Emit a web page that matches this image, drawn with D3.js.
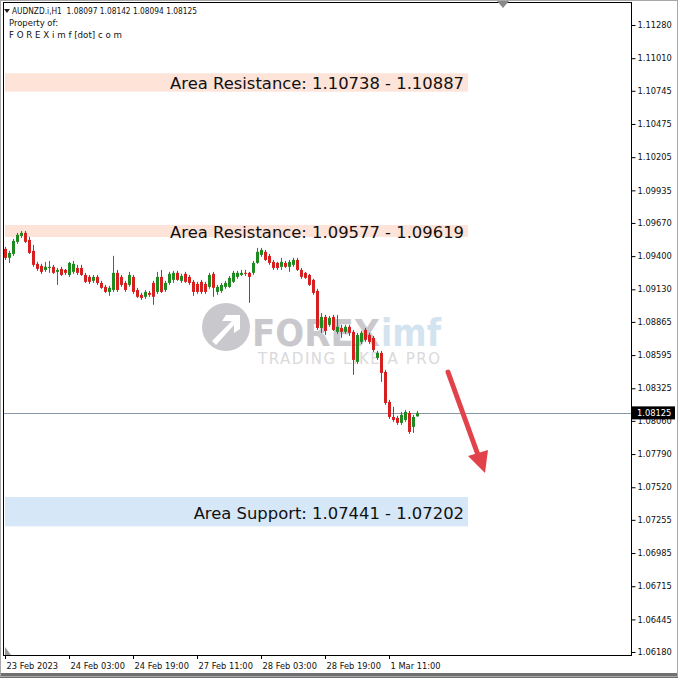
<!DOCTYPE html>
<html><head><meta charset="utf-8">
<script src="https://cdn.jsdelivr.net/npm/d3@7"></script>
<style>html,body{margin:0;padding:0;background:#fff;}svg{display:block;}</style>
</head><body>
<svg id="c" width="678" height="678"></svg>
<script>
// ---------- DATA ----------
const symbolInfo = "AUDNZD.i,H1  1.08097 1.08142 1.08094 1.08125";
const timeLabels = ["23 Feb 2023","24 Feb 03:00","24 Feb 19:00","27 Feb 11:00","28 Feb 03:00","28 Feb 19:00","1 Mar 11:00"];
const timeTickIdx = [0,16,32,48,64,80,96];
const priceTicks = [1.11280,1.11010,1.10745,1.10475,1.10205,1.09935,1.09670,1.09400,1.09130,1.08865,1.08595,1.08325,1.08060,1.07790,1.07520,1.07255,1.06985,1.06715,1.06445,1.06180];
const currentPrice = 1.08125;
const zoneLow  = [1.10738, 1.09556, 1.07202];
const zoneHigh = [1.10887, 1.09653, 1.07441];
const zoneKind = ["res","res","sup"];
const zoneText = ["Area Resistance: 1.10738 - 1.10887","Area Resistance: 1.09577 - 1.09619","Area Support: 1.07441 - 1.07202"];
const open  = [1.09459,1.09386,1.09418,1.09516,1.09565,1.09589,1.09532,1.09443,1.09337,1.09321,1.09288,1.09304,1.09313,1.09272,1.09296,1.09288,1.09247,1.09272,1.09304,1.09304,
1.09247,1.09231,1.09199,1.09231,1.09182,1.09150,1.09109,1.09125,1.09264,1.09231,1.09182,1.09166,1.09231,1.09125,1.09085,1.09069,1.09101,1.09182,1.09109,1.09231,
1.09125,1.09182,1.09207,1.09264,1.09199,1.09256,1.09231,1.09191,1.09174,1.09191,1.09174,1.09150,1.09256,1.09109,1.09117,1.09150,1.09150,1.09191,1.09231,1.09247,
1.09264,1.09264,1.09264,1.09345,1.09410,1.09435,1.09402,1.09353,1.09345,1.09313,1.09345,1.09313,1.09329,1.09369,1.09288,1.09264,1.09247,1.09207,1.09117,1.08816,
1.08906,1.08841,1.08906,1.08784,1.08816,1.08784,1.08825,1.08784,1.08540,1.08703,1.08800,1.08759,1.08735,1.08572,1.08613,1.08458,1.08214,1.08092,1.08084,1.08044,
1.08068,1.08125,1.08011,1.08097];
const high  = [1.09475,1.09443,1.09540,1.09589,1.09605,1.09605,1.09557,1.09491,1.09353,1.09337,1.09353,1.09361,1.09329,1.09304,1.09313,1.09296,1.09353,1.09361,1.09329,1.09329,
1.09264,1.09247,1.09247,1.09247,1.09199,1.09166,1.09158,1.09402,1.09288,1.09247,1.09199,1.09272,1.09247,1.09142,1.09101,1.09125,1.09117,1.09199,1.09272,1.09288,
1.09199,1.09272,1.09280,1.09280,1.09256,1.09272,1.09247,1.09207,1.09191,1.09207,1.09191,1.09264,1.09272,1.09166,1.09182,1.09199,1.09239,1.09280,1.09280,1.09288,
1.09288,1.09272,1.09361,1.09467,1.09467,1.09451,1.09418,1.09369,1.09353,1.09386,1.09361,1.09369,1.09386,1.09386,1.09304,1.09272,1.09256,1.09215,1.09134,1.08938,
1.08922,1.08914,1.08922,1.08922,1.08841,1.08841,1.08841,1.08800,1.08776,1.08792,1.08816,1.08776,1.08751,1.08629,1.08629,1.08475,1.08231,1.08174,1.08101,1.08133,
1.08149,1.08141,1.08109,1.08142];
const low   = [1.09369,1.09345,1.09402,1.09500,1.09548,1.09508,1.09418,1.09313,1.09280,1.09256,1.09272,1.09264,1.09256,1.09166,1.09239,1.09247,1.09231,1.09256,1.09247,1.09239,
1.09182,1.09174,1.09182,1.09166,1.09134,1.09101,1.09077,1.09109,1.09109,1.09150,1.09109,1.09150,1.09093,1.09060,1.09044,1.09052,1.09069,1.09004,1.09093,1.09101,
1.09109,1.09166,1.09182,1.09199,1.09182,1.09182,1.09166,1.09077,1.09093,1.09093,1.09093,1.09134,1.09069,1.09085,1.09101,1.09134,1.09142,1.09182,1.09215,1.09239,
1.09239,1.09020,1.09247,1.09337,1.09394,1.09361,1.09329,1.09288,1.09288,1.09288,1.09304,1.09272,1.09313,1.09280,1.09215,1.09215,1.09158,1.09085,1.08800,1.08776,
1.08759,1.08825,1.08792,1.08768,1.08735,1.08768,1.08751,1.08434,1.08524,1.08686,1.08703,1.08686,1.08621,1.08556,1.08377,1.08190,1.08076,1.08052,1.08027,1.08027,
1.08052,1.07954,1.07962,1.08094];
const close = [1.09386,1.09426,1.09524,1.09573,1.09589,1.09516,1.09426,1.09329,1.09296,1.09272,1.09313,1.09313,1.09264,1.09288,1.09247,1.09264,1.09345,1.09337,1.09264,1.09247,
1.09191,1.09191,1.09231,1.09182,1.09142,1.09109,1.09142,1.09264,1.09125,1.09166,1.09125,1.09247,1.09109,1.09069,1.09060,1.09109,1.09085,1.09069,1.09231,1.09109,
1.09182,1.09256,1.09264,1.09207,1.09239,1.09191,1.09182,1.09109,1.09109,1.09109,1.09109,1.09247,1.09142,1.09150,1.09166,1.09182,1.09223,1.09264,1.09264,1.09264,
1.09256,1.09231,1.09345,1.09435,1.09451,1.09369,1.09345,1.09304,1.09304,1.09353,1.09313,1.09353,1.09369,1.09288,1.09231,1.09223,1.09166,1.09101,1.08816,1.08906,
1.08792,1.08898,1.08800,1.08825,1.08784,1.08825,1.08776,1.08556,1.08759,1.08776,1.08719,1.08703,1.08637,1.08613,1.08450,1.08206,1.08092,1.08068,1.08044,1.08109,
1.08133,1.07970,1.08092,1.08125];

// ---------- LAYOUT ----------
const svg = d3.select("#c");
const FONT = "DejaVu Sans, Verdana, sans-serif";
const L = 4, R = 631, T = 2, B = 655;
const y = d3.scaleLinear().domain([1.06180, 1.11280]).range([652, 25]);
const x = d3.scaleLinear().domain([0, 103]).range([5, 417]);
const UP = "#1f8a1f", DN = "#d61f1f";

// outer window
svg.append("rect").attr("x",0).attr("y",0).attr("width",678).attr("height",678).attr("fill","#fff");
svg.append("rect").attr("x",0).attr("y",673).attr("width",678).attr("height",5).attr("fill","#707070");
svg.append("rect").attr("x",0.5).attr("y",0.5).attr("width",677).attr("height",676).attr("fill","none").attr("stroke","#a8a8a8");

// zones
const zg = svg.append("g");
zoneLow.forEach((lo,i)=>{
  const y1 = y(zoneHigh[i]), y2 = y(lo);
  const top = Math.min(y1,y2), h = Math.abs(y2-y1);
  zg.append("rect").attr("x",5).attr("y",top).attr("width",463).attr("height",h)
    .attr("fill", zoneKind[i]==="res" ? "#fde3d8" : "#d6e7f7");
});

// watermark (single text element with tspans)
const wm = svg.append("g").attr("opacity",0.9);
wm.append("circle").attr("cx",226).attr("cy",327).attr("r",24).attr("fill","#c4c4c8");
wm.append("path").attr("d","M212,341 L232,321 L222,321 L226,315 L240,315 L240,329 L234,333 L234,325 L216,345 Z").attr("fill","#fff");
const wt = wm.append("text").attr("font-family","DejaVu Sans, sans-serif");
wt.append("tspan").attr("x",252).attr("y",346).attr("font-weight","bold").attr("font-size",37).attr("fill","#c4c4c8")
  .attr("textLength",128).attr("lengthAdjust","spacingAndGlyphs").text("FOREX");
wt.append("tspan").attr("x",381).attr("y",346).attr("font-weight","bold").attr("font-size",37).attr("fill","#cfe2ef")
  .attr("textLength",60).attr("lengthAdjust","spacingAndGlyphs").text("imf");
wt.append("tspan").attr("x",258).attr("y",364).attr("font-size",15).attr("fill","#d6d6d8")
  .attr("textLength",182).attr("lengthAdjust","spacing").text("TRADING LIKE A PRO");

// zone labels
zoneText.forEach((t,i)=>{
  const cy = (y(zoneLow[i]) + y(zoneHigh[i]))/2;
  svg.append("text").attr("x",464).attr("y",cy+7).attr("text-anchor","end")
    .attr("font-family",FONT).attr("font-size",16.4).attr("fill","#111").text(t);
});

// current price line
svg.append("line").attr("x1",L).attr("x2",R).attr("y1",Math.round(y(currentPrice))+0.5).attr("y2",Math.round(y(currentPrice))+0.5)
  .attr("stroke","#8696a6").attr("stroke-width",1);

// candles
const cg = svg.append("g");
open.forEach((o,i)=>{
  const c = close[i], col = c >= o ? UP : DN;
  const cx = Math.round(x(i)) + 0.5;
  cg.append("line").attr("x1",cx).attr("x2",cx).attr("y1",y(high[i])).attr("y2",y(low[i])).attr("stroke",col).attr("stroke-width",1);
  const t = Math.min(y(o),y(c)), h = Math.max(1, Math.abs(y(o)-y(c)));
  cg.append("rect").attr("x",cx-1.5).attr("y",t).attr("width",3).attr("height",h).attr("fill",col);
});

// red arrow
svg.append("line").attr("x1",448).attr("y1",372).attr("x2",478).attr("y2",455)
  .attr("stroke","#e2434b").attr("stroke-width",5).attr("stroke-linecap","round");
svg.append("path").attr("d","M485,473 L468,456 L488,450 Z").attr("fill","#e2434b");

// frame
svg.append("rect").attr("x",L-0.5).attr("y",T+0.5).attr("width",R-L+1).attr("height",B-T).attr("fill","none").attr("stroke","#000");
svg.append("path").attr("d","M497,1 L509,1 L503,8 Z").attr("fill","#8a8a8a");
svg.append("path").attr("d","M5,647 L5,655 L11,655 Z").attr("fill","#9a9a9a");

// price axis
const ax = d3.axisRight(y).tickValues(priceTicks).tickSize(4).tickFormat(d3.format(".5f"));
const ag = svg.append("g").attr("transform",`translate(${R+0.5},0)`).call(ax);
ag.select(".domain").remove();
ag.selectAll("text").attr("font-family",FONT).attr("font-size",8.3).attr("fill","#111").attr("x",6);
ag.selectAll("line").attr("stroke","#000");

// current price tag
const cy0 = y(currentPrice);
svg.append("rect").attr("x",632).attr("y",cy0-6.5).attr("width",43).attr("height",13).attr("fill","#000");
svg.append("text").attr("x",637).attr("y",cy0+3).attr("font-family",FONT).attr("font-size",8.3).attr("fill","#fff").text(d3.format(".5f")(currentPrice));

// time axis
const tx = d3.axisBottom(x).tickValues(timeTickIdx).tickSize(4).tickFormat((d,i)=>timeLabels[i]);
const tg = svg.append("g").attr("transform",`translate(0,${B})`).call(tx);
tg.select(".domain").remove();
tg.selectAll("line").attr("stroke","#000");
tg.selectAll("text").attr("font-family",FONT).attr("font-size",8.3).attr("fill","#111").attr("text-anchor","start").attr("dx",1).attr("y",8);

// header
svg.append("path").attr("d","M4,9 L10,9 L7,13 Z").attr("fill","#222");
const hd = [symbolInfo, "Property of:", "F O R E X i m f [dot] c o m"];
const hdLen = [185, 49, 113];
hd.forEach((t,i)=>{
  svg.append("text").attr("x", i===0 ? 12 : 9).attr("y",14+i*12).attr("font-family",FONT).attr("font-size",8.3)
    .attr("fill","#111").attr("xml:space","preserve").style("white-space","pre")
    .attr("textLength",hdLen[i]).attr("lengthAdjust","spacingAndGlyphs").text(t);
});
</script>
</body></html>
